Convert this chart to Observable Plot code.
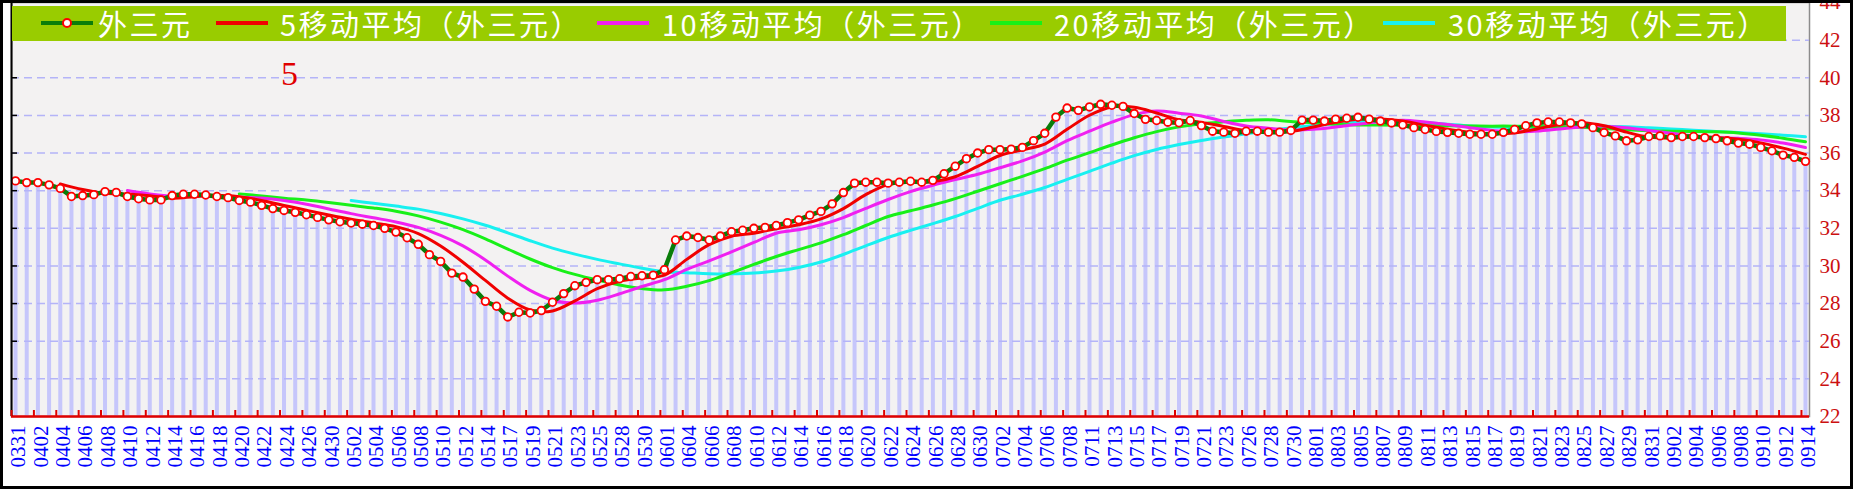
<!DOCTYPE html>
<html>
<head>
<meta charset="utf-8">
<script src="https://cdn.jsdelivr.net/npm/d3@7"></script>
<script src="https://cdn.jsdelivr.net/npm/@observablehq/plot@0.6"></script>
<style>
html, body { margin: 0; padding: 0; background: #fff; }
#wrap { position: relative; width: 1853px; height: 489px; overflow: hidden; background: #fff; }
#chart svg { display: block; }
#border { position: absolute; left: 0; top: 0; width: 1853px; height: 489px; box-sizing: border-box; border: 3px solid #000; pointer-events: none; }
#legend { position: absolute; left: 12px; top: 6px; width: 1774px; height: 35px; background: #99cc00; }
.lg-text { position: absolute; top: 0; height: 35px; line-height: 35px; color: #fff; font-family: "Noto Sans CJK SC", sans-serif; font-size: 29px; letter-spacing: 2.5px; white-space: nowrap; }
.lg-sym { position: absolute; top: 15px; height: 4px; width: 52px; }
.lg-dot { position: absolute; top: -3px; left: 21px; width: 6px; height: 6px; border-radius: 50%; border: 2px solid #ff0000; background: #fff; }
#note { position: absolute; left: 281px; top: 57px; color: #e00000; font-family: "Liberation Serif", serif; font-size: 34px; line-height: 34px; }
</style>
</head>
<body>
<div id="wrap">
  <div id="chart"></div>
  <div id="legend"></div>
  <div id="note">5</div>
  <div id="border"></div>
</div>
<script>
// ---- data ----
const dates = [
"0331","0401","0402","0403","0404","0405","0406","0407","0408","0409",
"0410","0411","0412","0413","0414","0415","0416","0417","0418","0419",
"0420","0421","0422","0423","0424","0425","0426","0428","0430","0501",
"0502","0503","0504","0505","0506","0507","0508","0509","0510","0511",
"0512","0513","0514","0516","0517","0518","0519","0520","0521","0522",
"0523","0524","0525","0527","0528","0529","0530","0531","0601","0603",
"0604","0605","0606","0607","0608","0609","0610","0611","0612","0613",
"0614","0615","0616","0617","0618","0619","0620","0621","0622","0623",
"0624","0625","0626","0627","0628","0629","0630","0701","0702","0703",
"0704","0705","0706","0707","0708","0710","0711","0712","0713","0714",
"0715","0716","0717","0718","0719","0720","0721","0722","0723","0725",
"0726","0727","0728","0729","0730","0731","0801","0802","0803","0804",
"0805","0806","0807","0808","0809","0810","0811","0812","0813","0814",
"0815","0816","0817","0818","0819","0820","0821","0822","0823","0824",
"0825","0826","0827","0828","0829","0830","0831","0901","0902","0903",
"0904","0905","0906","0907","0908","0909","0910","0911","0912","0913",
"0914"];

const values = [
34.52,34.43,34.43,34.31,34.12,33.69,33.74,33.79,33.95,33.91,
33.69,33.57,33.51,33.51,33.74,33.81,33.81,33.77,33.69,33.63,
33.48,33.39,33.22,33.05,32.95,32.85,32.72,32.58,32.45,32.35,
32.28,32.22,32.15,32.00,31.80,31.50,31.15,30.60,30.24,29.62,
29.41,28.77,28.12,27.86,27.29,27.54,27.50,27.63,28.07,28.53,
28.95,29.13,29.27,29.27,29.32,29.44,29.48,29.51,29.80,31.38,
31.59,31.51,31.38,31.59,31.82,31.90,32.00,32.05,32.15,32.30,
32.45,32.70,32.90,33.30,33.90,34.40,34.45,34.45,34.40,34.45,
34.50,34.45,34.55,34.90,35.30,35.70,36.00,36.18,36.18,36.21,
36.30,36.66,37.05,37.91,38.39,38.27,38.45,38.59,38.54,38.48,
38.10,37.79,37.73,37.64,37.61,37.73,37.46,37.16,37.11,37.05,
37.16,37.16,37.11,37.11,37.20,37.75,37.75,37.70,37.80,37.85,
37.90,37.80,37.70,37.60,37.50,37.35,37.25,37.15,37.10,37.05,
37.00,37.00,37.00,37.10,37.25,37.45,37.60,37.65,37.65,37.60,
37.55,37.35,37.09,36.91,36.65,36.70,36.88,36.91,36.82,36.88,
36.88,36.82,36.77,36.65,36.53,36.47,36.30,36.12,35.89,35.77,
35.56];

// tick labels (every second date); the moving averages are read at these dates
const xTickLabels = [
"0331","0402","0404","0406","0408","0410","0412","0414","0416","0418",
"0420","0422","0424","0426","0430","0502","0504","0506","0508","0510",
"0512","0514","0517","0519","0521","0523","0525","0528","0530","0601",
"0604","0606","0608","0610","0612","0614","0616","0618","0620","0622",
"0624","0626","0628","0630","0702","0704","0706","0708","0711","0713",
"0715","0717","0719","0721","0723","0726","0728","0730","0801","0803",
"0805","0807","0809","0811","0813","0815","0817","0819","0821","0823",
"0825","0827","0829","0831","0902","0904","0906","0908","0910","0912",
"0914"];

const ma5 = [null,null,
34.36,34.06,33.86,33.82,33.73,33.60,33.68,33.76,33.68,33.48,
33.22,32.96,32.71,32.48,32.29,32.09,31.72,31.06,30.20,29.23,
28.29,27.66,27.61,28.14,28.79,29.19,29.36,29.51,30.35,31.13,
31.58,31.74,31.98,32.19,32.50,33.05,33.79,34.32,34.45,34.47,
34.74,35.29,35.87,36.17,36.48,37.26,38.01,38.45,38.43,38.13,
37.77,37.63,37.41,37.19,37.12,37.15,37.38,37.64,37.80,37.81,
37.70,37.48,37.27,37.11,37.03,37.07,37.28,37.52,37.61,37.45,
37.11,36.85,36.79,36.87,36.83,36.73,36.54,36.26,35.93];

const ma10 = [null,null,null,null,null,
34.01,33.83,33.71,33.73,33.70,33.65,33.61,33.48,33.28,33.03,
32.78,32.56,32.34,32.05,31.63,31.07,30.32,29.46,28.70,28.18,
28.03,28.18,28.52,28.91,29.27,29.82,30.27,30.75,31.25,31.74,
31.92,32.19,32.57,33.06,33.53,33.95,34.29,34.59,34.87,35.22,
35.58,36.05,36.66,37.16,37.64,38.04,38.23,38.12,37.97,37.68,
37.44,37.32,37.23,37.26,37.38,37.53,37.66,37.74,37.65,37.52,
37.35,37.20,37.13,37.17,37.28,37.39,37.43,37.35,37.20,37.05,
36.91,36.82,36.78,36.70,36.53,36.29];

const ma20 = [null,null,null,null,null,null,null,null,null,null,
33.83,33.72,33.60,33.50,33.37,33.22,33.08,32.91,32.66,32.33,
31.93,31.44,30.90,30.37,29.91,29.55,29.25,28.99,28.80,28.73,
28.92,29.22,29.64,30.08,30.50,30.87,31.23,31.66,32.15,32.63,
32.93,33.24,33.58,33.97,34.37,34.76,35.17,35.62,36.02,36.43,
36.81,37.14,37.39,37.56,37.66,37.74,37.77,37.67,37.61,37.53,
37.49,37.49,37.48,37.45,37.45,37.44,37.43,37.43,37.41,37.40,
37.37,37.31,37.24,37.19,37.16,37.15,37.13,37.07,36.95,36.79,
36.60];

const ma30 = [null,null,null,null,null,null,null,null,null,null,
null,null,null,null,null,
33.48,33.33,33.18,33.02,32.79,32.50,32.16,31.76,31.34,30.95,
30.63,30.35,30.11,29.88,29.69,29.64,29.59,29.58,29.62,29.73,
29.92,30.21,30.61,31.07,31.51,31.89,32.25,32.63,33.06,33.49,
33.81,34.17,34.60,35.03,35.46,35.86,36.19,36.45,36.67,36.85,
37.02,37.20,37.33,37.46,37.57,37.67,37.73,37.69,37.62,37.53,
37.44,37.39,37.36,37.36,37.39,37.42,37.43,37.40,37.34,37.28,
37.21,37.15,37.09,37.03,36.95,36.86];

const yTicks = [22,24,26,28,30,32,34,36,38,40,42,44];
const gridTicks = [24,26,28,30,32,34,36,38,40,42];

const seriesNames = ["外三元","5移动平均（外三元）","10移动平均（外三元）","20移动平均（外三元）","30移动平均（外三元）"];

// ---- styling ----
const colors = ["#0a7d0a","#f00000","#f020f0","#18f018","#18f0f0"];
const yMin = yTicks[0];

const rows = dates.map((d, i) => ({d, v: values[i]}));
const maRows = xTickLabels.map((d, i) => ({d, m5: ma5[i], m10: ma10[i], m20: ma20[i], m30: ma30[i]}));

const maLine = (key, color) => Plot.line(maRows, {
  filter: r => r[key] != null, x: "d", y: key,
  stroke: color, strokeWidth: 3, curve: "catmull-rom"
});

const chart = Plot.plot({
  width: 1853,
  height: 489,
  marginLeft: 11,
  marginRight: 44,
  marginTop: 2,
  marginBottom: 73,
  style: {background: "transparent", overflow: "visible"},
  x: {type: "point", domain: dates, padding: 0.36, round: false},
  y: {domain: [yTicks[0], yTicks[yTicks.length - 1]]},
  marks: [
    Plot.frame({fill: "#f3f2f2", stroke: "#8c8c8c", strokeWidth: 1.5}),
    Plot.ruleX(rows, {x: "d", y1: yMin, y2: "v", stroke: "#c6c6fb", strokeWidth: 4}),
    Plot.gridY(gridTicks, {stroke: "#b4b4f8", strokeOpacity: 1, strokeWidth: 1.5, strokeDasharray: "8,5"}),
    maLine("m30", colors[4]),
    maLine("m20", colors[3]),
    maLine("m10", colors[2]),
    maLine("m5", colors[1]),
    Plot.line(rows, {x: "d", y: "v", stroke: colors[0], strokeWidth: 4.5}),
    Plot.dot(rows, {x: "d", y: "v", r: 3.8, stroke: "#ff0000", fill: "#ffffff", strokeWidth: 1.8}),
    Plot.ruleY([yMin], {stroke: "#e00000", strokeWidth: 2.5}),
    Plot.ruleX([dates[0]], {dx: -4, stroke: "#000", strokeWidth: 2}),
    Plot.axisY(gridTicks, {anchor: "left", tickSize: -6, stroke: "#000", strokeWidth: 1.5, tickFormat: () => "", label: null}),
    Plot.axisX(xTickLabels, {anchor: "bottom", tickSize: -6, stroke: "#e00000", strokeWidth: 2, dx: -4, tickFormat: () => "", label: null}),
    Plot.axisX(xTickLabels, {anchor: "bottom", tickSize: 0, tickPadding: 9, tickRotate: -90, dx: 3,
      fill: "#0000ff", fontSize: 21, fontFamily: "Liberation Serif", label: null}),
    Plot.axisY(yTicks, {anchor: "right", tickSize: 0, tickPadding: 10, fill: "#cc1010",
      fontSize: 21, fontFamily: "Liberation Serif", label: null})
  ]
});
document.getElementById("chart").appendChild(chart);

// ---- legend (overlaid on the plot, as in the original) ----
const legendSymLeft = [29, 204, 585, 978, 1371];
const legendTextLeft = [86, 268, 650, 1042, 1436];
const legend = document.getElementById("legend");
seriesNames.forEach((name, i) => {
  const sym = document.createElement("div");
  sym.className = "lg-sym";
  sym.style.left = legendSymLeft[i] + "px";
  sym.style.background = colors[i];
  if (i === 0) {
    const dot = document.createElement("div");
    dot.className = "lg-dot";
    sym.appendChild(dot);
  }
  legend.appendChild(sym);
  const t = document.createElement("div");
  t.className = "lg-text";
  t.style.left = legendTextLeft[i] + "px";
  t.textContent = name;
  legend.appendChild(t);
});
</script>
</body>
</html>
